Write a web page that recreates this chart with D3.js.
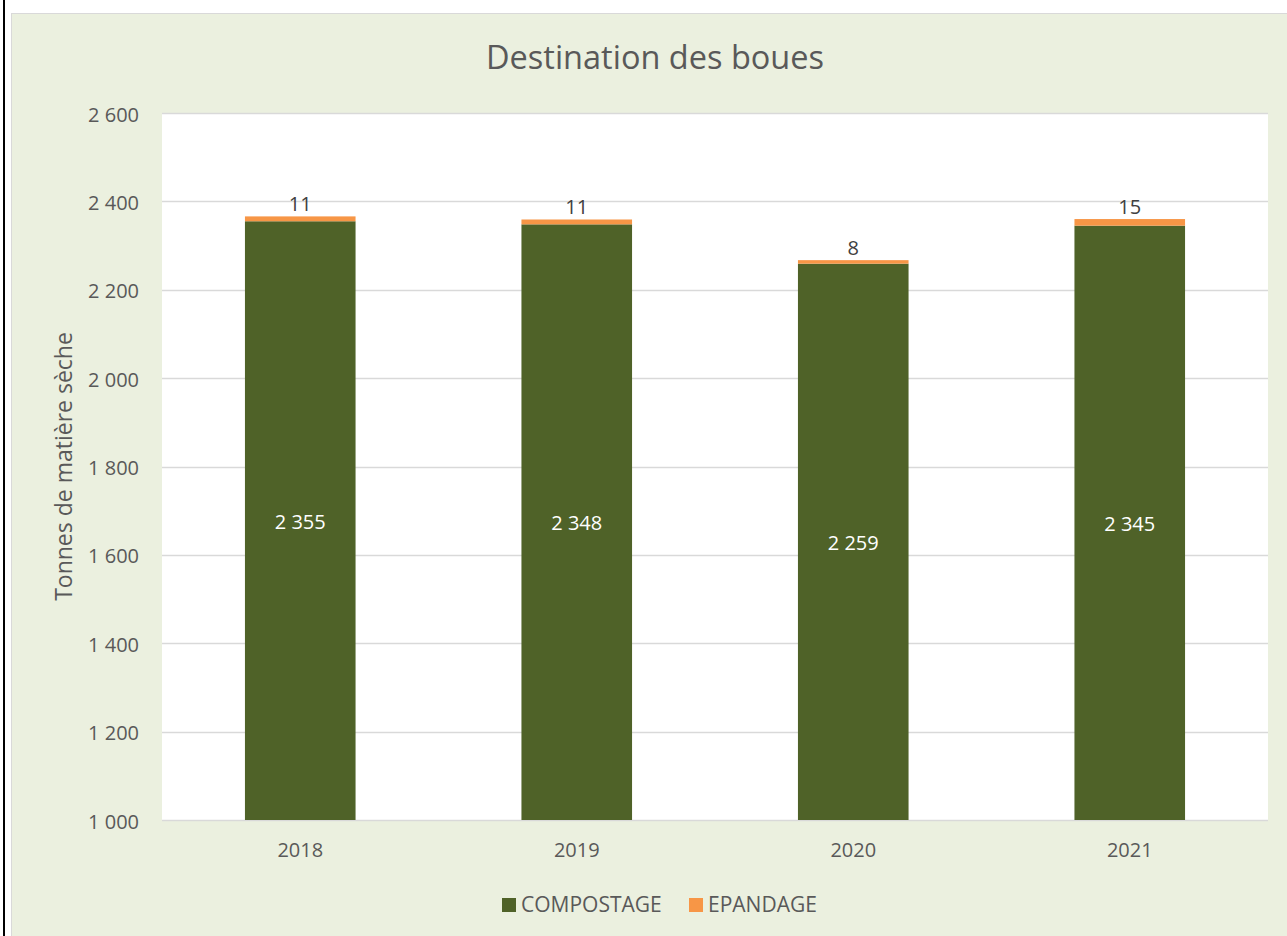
<!DOCTYPE html>
<html>
<head>
<meta charset="utf-8">
<script src="https://cdn.jsdelivr.net/npm/d3@7"></script>
<style>
  body { margin: 0; background: #ffffff; }
  svg { display: block; font-family: "Open Sans", sans-serif; }
</style>
</head>
<body>
<svg id="chart"></svg>
<script>
"use strict";

const width = 1287;
const height = 936;

// data
const years = ["2018", "2019", "2020", "2021"];
const compostage = [2355, 2348, 2259, 2345];
const epandage = [11, 11, 8, 15];
const y_ticks = [1000, 1200, 1400, 1600, 1800, 2000, 2200, 2400, 2600];
const series_names = ["COMPOSTAGE", "EPANDAGE"];

const colors = ["#4f6228", "#f79646"];
const text_color = "#595959";
const font = "'Open Sans', sans-serif";

const plot = { left: 162, right: 1268, top: 113, bottom: 820 };

const fmt = v => d3.format(",")(v).replace(/,/g, " ");

const svg = d3.select("#chart")
    .attr("width", width)
    .attr("height", height);

// frame
svg.append("rect")
    .attr("x", 3).attr("y", 0)
    .attr("width", 2).attr("height", height)
    .attr("fill", "#000000");

svg.append("rect")
    .attr("x", 11.5).attr("y", 13.5)
    .attr("width", width + 20).attr("height", height + 20)
    .attr("fill", "#ebf0df")
    .attr("stroke", "#d9d9d9")
    .attr("stroke-width", 1);

svg.append("rect")
    .attr("x", plot.left).attr("y", plot.top)
    .attr("width", plot.right - plot.left).attr("height", plot.bottom - plot.top)
    .attr("fill", "#ffffff");

// scales
const x = d3.scaleBand()
    .domain(years)
    .range([plot.left, plot.right])
    .paddingInner(0.6)
    .paddingOuter(0.3);

const y = d3.scaleLinear()
    .domain([1000, 2600])
    .range([plot.bottom, plot.top]);

// grid
svg.append("g")
    .selectAll("line")
    .data(y_ticks)
    .enter()
    .append("line")
    .attr("x1", plot.left)
    .attr("x2", plot.right)
    .attr("y1", d => Math.round(y(d)) + 0.5)
    .attr("y2", d => Math.round(y(d)) + 0.5)
    .attr("stroke", "#d9d9d9")
    .attr("stroke-width", 1.5);

// y axis
const yAxis = svg.append("g")
    .attr("transform", `translate(${plot.left},0)`)
    .call(d3.axisLeft(y).tickValues(y_ticks).tickFormat(fmt).tickSize(0).tickPadding(23));
yAxis.select(".domain").remove();
yAxis.selectAll("text")
    .attr("fill", text_color)
    .attr("dy", "0.4em")
    .style("font-size", "20px")
    .style("font-family", font);

// x axis
const xAxis = svg.append("g")
    .attr("transform", `translate(0,${plot.bottom})`)
    .call(d3.axisBottom(x).tickSize(0).tickPadding(23));
xAxis.select(".domain").remove();
xAxis.selectAll("text")
    .attr("fill", text_color)
    .style("font-size", "20px")
    .style("font-family", font);

// stacked bars
const rows = years.map((yr, i) => ({ year: yr, c: compostage[i], e: epandage[i] }));

svg.append("g")
    .selectAll("rect")
    .data(rows)
    .enter()
    .append("rect")
    .attr("x", d => x(d.year))
    .attr("width", x.bandwidth())
    .attr("y", d => y(d.c))
    .attr("height", d => y(1000) - y(d.c))
    .attr("fill", colors[0]);

svg.append("g")
    .selectAll("rect")
    .data(rows)
    .enter()
    .append("rect")
    .attr("x", d => x(d.year))
    .attr("width", x.bandwidth())
    .attr("y", d => y(d.c + d.e))
    .attr("height", d => y(d.c) - y(d.c + d.e))
    .attr("fill", colors[1]);

// labels
svg.append("g")
    .selectAll("text")
    .data(rows)
    .enter()
    .append("text")
    .attr("x", d => x(d.year) + x.bandwidth() / 2)
    .attr("y", d => (y(d.c) + y(1000)) / 2 + 8)
    .attr("text-anchor", "middle")
    .attr("fill", "#ffffff")
    .style("font-size", "20px")
    .text(d => fmt(d.c));

svg.append("g")
    .selectAll("text")
    .data(rows)
    .enter()
    .append("text")
    .attr("x", d => x(d.year) + x.bandwidth() / 2)
    .attr("y", d => y(d.c + d.e) - 5)
    .attr("text-anchor", "middle")
    .attr("fill", "#404040")
    .style("font-size", "20px")
    .text(d => d.e);

// title
svg.append("text")
    .attr("x", 655)
    .attr("y", 69)
    .attr("text-anchor", "middle")
    .attr("fill", text_color)
    .style("font-size", "32.5px")
    .text("Destination des boues");

// y axis title
svg.append("text")
    .attr("transform", `translate(72,${(plot.top + plot.bottom) / 2}) rotate(-90)`)
    .attr("text-anchor", "middle")
    .attr("fill", text_color)
    .style("font-size", "23px")
    .text("Tonnes de matière sèche");

// legend
const legend_x = [502, 689];
const legend = svg.append("g")
    .selectAll("g")
    .data(series_names)
    .enter()
    .append("g")
    .attr("transform", (d, i) => `translate(${legend_x[i]},898)`);

legend.append("rect")
    .attr("width", 14)
    .attr("height", 14)
    .attr("fill", (d, i) => colors[i]);

legend.append("text")
    .attr("x", 19)
    .attr("y", 13.5)
    .attr("fill", text_color)
    .style("font-size", "21px")
    .text(d => d);
</script>
</body>
</html>
